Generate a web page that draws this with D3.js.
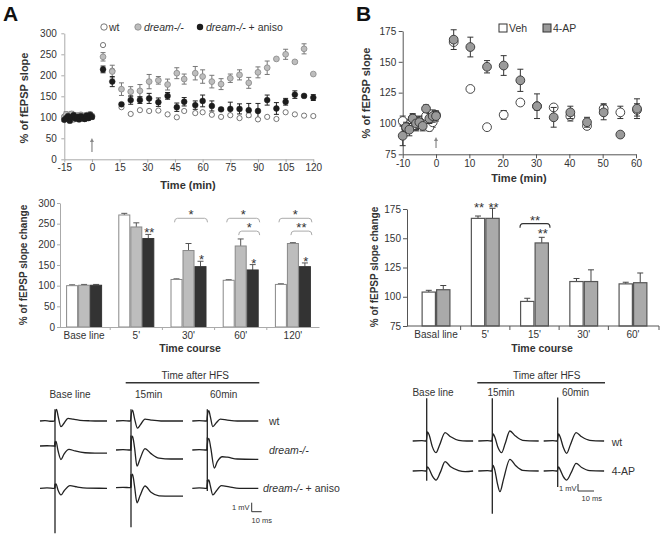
<!DOCTYPE html>
<html><head><meta charset="utf-8">
<script src="https://cdn.jsdelivr.net/npm/d3@7"></script>
<style>body{margin:0;background:#fff}svg{display:block}</style>
</head><body><svg id="c" width="662" height="536"></svg>
<script>
// ================= DATA =================
// Panel A, time course
const aXTicks = [-15,0,15,30,45,60,75,90,105,120];
const aYTicks = [0,50,100,150,200,250,300];
const aBaseTimes = [-15,-14,-13,-12,-11,-10,-9,-8,-7,-6,-5,-4,-3,-2,-1,0];
const aWtBase    = [102,98,104,100,106,99,103,101,97,105,100,104,98,106,102,104];
const aKoBase    = [100,107,96,103,108,95,101,104,99,106,97,102,105,100,107,103];
const aKoBaseErr = [5,6,4,5,6,5,4,6,5,4,5,6,4,5,5,4];
const aAnBase    = [94,98,103,92,100,105,97,101,95,103,99,96,104,98,106,101];
const aAnBaseErr = [4,5,4,5,4,5,4,5,4,5,4,5,4,5,4,5];
const aPostTimes = [6,11,16,21,26,31,36,41,46,50,56,60,65,70,75,80,85,90,95,100,105,110,115,120];
const aWtPost = [272,211,124,108,117,115,116,107,100,115,110,112,106,101,105,98,105,95,101,96,112,107,104,103];
const aKoPost = [244,209,167,161,163,185,188,178,205,191,205,197,185,179,193,201,182,207,218,239,250,232,263,203];
const aKoErr  = [10,15,15,12,15,17,9,13,13,12,16,16,15,13,10,12,13,13,16,2,12,3,12,0];
const aAnPost = [214,185,131,141,141,145,136,151,124,137,129,139,127,119,120,120,117,115,141,121,137,154,151,147];
const aAnErr  = [8,12,3,10,8,12,10,8,10,10,10,14,12,3,16,12,16,18,12,14,8,9,2,7];

// Panel A, bars
const aBarCats = ["Base line","5'","30'","60'","120'"];
const aBarSeries = ["wt","ko","an"];
const aBarWt = [100,271,115,113,103], aBarWtErr = [2,4,1.5,1.5,1.5];
const aBarKo = [101,242,185,196,202], aBarKoErr = [2,10,17,17,2];
const aBarAn = [101,214,146,138,146], aBarAnErr = [2,10,13,13,9];
const aBarYTicks = [0,50,100,150,200,250,300];
const aStars = [{cat:"5'",s:"an",t:"**"},{cat:"30'",s:"an",t:"*"},{cat:"60'",s:"an",t:"*"},{cat:"120'",s:"an",t:"*"}];
const aBrackets = [{cat:"30'",from:"wt",to:"an",lvl:1,t:"*"},{cat:"60'",from:"wt",to:"an",lvl:1,t:"*"},
  {cat:"60'",from:"ko",to:"an",lvl:2,t:"*"},{cat:"120'",from:"wt",to:"an",lvl:1,t:"*"},{cat:"120'",from:"ko",to:"an",lvl:2,t:"**"}];

// Panel B, time course
const bXTicks = [-10,0,10,20,30,40,50,60];
const bYTicks = [75,100,125,150,175];
const bBaseTimes = [-10,-9,-8,-7,-6,-5,-4,-3,-2,-1,0];
const bVehBase    = [102,96,99,104,98,102,100,106,97,101,107];
const bVehBaseErr = [4,3,4,3,4,3,4,3,3,4,3];
const bApBase     = [90,97,95,104,100,101,98,112,104,106,106];
const bApBaseErr  = [8,4,5,4,5,5,4,3,4,5,4];
const bPostTimes = [5.3,10.3,15.3,20.3,25.3,30.3,35.3,40.3,45.3,50.3,55.3,60.3];
const bVehPost = [166,128,97,107,117,114,113,106,98,112,109,111];
const bVehErr  = [2,2,1,3.5,2,3,2,4,2,4,5,5];
const bApPost  = [168,162,146,147,135,114,105,109,101,109,91,112];
const bApErr   = [8,8,5,8,9,10,8,5,4,6,1.5,8];

// Panel B, bars
const bBarCats = ["Basal line","5'","15'","30'","60'"];
const bBarSeries = ["veh","ap"];
const bBarVeh = [104,167,96,113,111], bBarVehErr = [1.5,2,2.7,2.6,1.4];
const bBarAp  = [106,167,146,113,112], bBarApErr  = [3.6,8.6,4.8,10,8.3];
const bBarYTicks = [75,100,125,150,175];
const bStars = [{cat:"5'",s:"veh",t:"**"},{cat:"5'",s:"ap",t:"**"},{cat:"15'",s:"ap",t:"**"}];
const bBrackets = [{cat:"15'",from:"veh",to:"ap",t:"**"}];

// Example traces: [time ms, mV relative to pre-stimulus baseline]; art = [top, bottom] of stimulus artifact
const trA_wt_base = {art:[1.3,-2.9], pts:[[-15,0],[-10,0.05],[-5,-0.03],[-0.5,0],[0,0.6],[1.5,1.3],[3,0.6],[6,-0.63],[9,-0.25],[13,0.3],[18,0.2],[25,0.08],[35,0.02],[45,0],[52,0]]};
const trA_wt_15   = {art:[1.3,-3.3], pts:[[-15,0],[-8,0.05],[-0.5,0],[0,0.5],[1.5,1.2],[3.5,0.3],[6.5,-0.8],[9.5,-0.4],[14,0.2],[20,0.1],[30,0],[52,0]]};
const trA_wt_60   = {art:[1.3,-3.3], pts:[[-15,0],[-8,0.04],[-0.5,0],[0,0.5],[1.5,1.15],[3,0.5],[5.5,-0.63],[9,-0.2],[13,0.2],[20,0.1],[30,0],[51,0]]};
const trA_ko_base = {art:[0.5,-4.7], pts:[[-15,0],[-8,0.03],[-0.5,0],[0,0.3],[1,0.5],[3,-0.5],[6,-1.5],[9,-0.9],[14,-0.37],[20,-0.55],[30,-0.75],[40,-0.8],[52,-0.8]]};
const trA_ko_15   = {art:[1.6,-4.2], pts:[[-15,0],[-8,0.04],[-0.5,0],[0,0.6],[1.5,1.55],[3.5,0.3],[6,-1.8],[9,-1.0],[14,0.15],[20,-0.4],[28,-0.9],[40,-1.0],[52,-1.0]]};
const trA_ko_60   = {art:[1.4,-4.2], pts:[[-15,0],[-8,0.04],[-0.5,0],[0,0.6],[1.5,1.3],[3.5,0.2],[7,-2.0],[10,-1.3],[15,-0.75],[20,-0.8],[30,-1.0],[51,-1.04]]};
const trA_an_base = {art:[0.5,-5.0], pts:[[-15,0],[-8,0.04],[-0.5,0],[0,0.3],[1,0.5],[3,-0.2],[6,-0.74],[9,-0.3],[15,0.3],[22,0.15],[32,0.02],[52,0]]};
const trA_an_15   = {art:[1.5,-4.4], pts:[[-15,0],[-8,0.04],[-0.5,0],[0,0.6],[1.5,1.5],[3.5,0.2],[6,-1.67],[9,-0.9],[14,0.19],[20,-0.5],[28,-0.9],[40,-0.93],[52,-0.93]]};
const trA_an_60   = {art:[0.93,-0.3], pts:[[-15,0],[-8,0.04],[-0.5,0],[0,0.4],[1.5,0.93],[3,0.3],[5.5,-0.74],[9,-0.3],[14,0.3],[22,0.15],[32,0],[51,0]]};
const trB_wt_base = {art:[6.1,-4.3], pts:[[-8.75,0],[-3,0.05],[-0.3,0],[0.5,1.3],[1.5,0.9],[3.5,-0.8],[5.8,-1.67],[8,-0.6],[11.5,1.2],[15,0.6],[20,0.1],[25,0],[29,0]]};
const trB_wt_15   = {art:[6.1,-4.3], pts:[[-8.75,0],[-3,0.05],[-0.3,0],[0.5,1.0],[1.5,0.6],[3.5,-0.9],[5.8,-1.67],[8,-0.4],[11,1.43],[14.5,0.7],[19,0.1],[29,0]]};
const trB_wt_60   = {art:[6.2,-4.3], pts:[[-8.75,0],[-3,0.05],[-0.3,0],[0.5,1.0],[1.5,0.6],[3.5,-0.9],[5.6,-1.76],[8,-0.5],[11.5,1.2],[15,0.6],[20,0.1],[29,0]]};
const trB_ap_base = {art:[0,-1.4], pts:[[-8.75,0],[-3,0.05],[-0.3,0],[0.5,0.6],[1.5,0.3],[3.5,-0.7],[5.8,-1.29],[8.5,-0.2],[11.5,1.33],[15,0.6],[20,0.05],[24,-0.1],[29,0]]};
const trB_ap_15   = {art:[0,-6.1], pts:[[-8.75,0],[-3,0.05],[-0.3,0],[0.5,0.8],[1.5,0.2],[3.2,-1.8],[4.8,-2.95],[7,-1.2],[11,1.67],[14.5,0.8],[19,0.1],[29,0]]};
const trB_ap_60   = {art:[0,-2.3], pts:[[-8.75,0],[-3,0.05],[-0.3,0],[0.5,0.6],[1.5,0.2],[3.5,-0.8],[5.6,-1.29],[8.5,-0.2],[11.5,1.1],[15,0.5],[20,0.05],[29,0]]};

// ================= DRAWING =================
const FONT = "'Liberation Sans', Arial, Helvetica, sans-serif";
const svg = d3.select("#c").attr("font-family", FONT);
svg.append("rect").attr("width",662).attr("height",536).attr("fill","#fff");

function styleAxis(g, color, fs) {
  g.attr("font-family", FONT).attr("font-size", fs);
  g.select(".domain").attr("stroke", color);
  g.selectAll(".tick line").attr("stroke", color);
  g.selectAll(".tick text").attr("fill", "#333");
}
function txt(x, y, s, o = {}) {
  const t = svg.append("text").attr("x", x).attr("y", y).text(s)
    .attr("font-size", o.fs || 10).attr("fill", o.fill || "#333")
    .attr("text-anchor", o.anchor || "start");
  if (o.bold) t.attr("font-weight", "bold");
  if (o.italic) t.attr("font-style", "italic");
  if (o.rot) t.attr("transform", `rotate(-90,${x},${y})`);
  return t;
}
function errBars(g, data, x, y, color, cap) {
  g.selectAll(null).data(data.filter(d => d.e > 0)).join("path")
    .attr("d", d => { const X = x(d.t), y1 = y(d.v + d.e), y2 = y(d.v - d.e);
      return `M${X},${y1}V${y2}M${X-cap/2},${y1}H${X+cap/2}M${X-cap/2},${y2}H${X+cap/2}`; })
    .attr("stroke", color).attr("fill", "none").attr("stroke-width", 1);
}
function series(times, vals, errs) { return times.map((t,i) => ({t, v: vals[i], e: errs ? errs[i] : 0})); }
function arrow(x, y1, y2, color) {
  svg.append("line").attr("x1",x).attr("x2",x).attr("y1",y1).attr("y2",y2+3).attr("stroke",color).attr("stroke-width",1.2);
  svg.append("path").attr("d",`M${x-2},${y2+4}L${x},${y2}L${x+2},${y2+4}Z`).attr("fill",color);
}

// Panel letters
txt(3, 21, "A", {fs: 21, bold: true, fill: "#111"});
txt(356, 21, "B", {fs: 21, bold: true, fill: "#111"});

// ---------- Panel A time course ----------
const ax = d3.scaleLinear().domain([-15,120]).range([64.3,313.3]);
const ay = d3.scaleLinear().domain([0,300]).range([159.3,33.3]);
styleAxis(svg.append("g").attr("transform",`translate(0,${ay(0)})`)
  .call(d3.axisBottom(ax).tickValues(aXTicks).tickFormat(d=>String(d)).tickSize(3).tickSizeOuter(0).tickPadding(2)), "#aaa", 10);
styleAxis(svg.append("g").attr("transform",`translate(${ax(-15)},0)`)
  .call(d3.axisLeft(ay).tickValues(aYTicks).tickSize(3).tickSizeOuter(0).tickPadding(4.5)), "#aaa", 10);
const aWt = series(aBaseTimes, aWtBase).concat(series(aPostTimes, aWtPost));
const aKo = series(aBaseTimes, aKoBase, aKoBaseErr).concat(series(aPostTimes, aKoPost, aKoErr));
const aAn = series(aBaseTimes, aAnBase, aAnBaseErr).concat(series(aPostTimes, aAnPost, aAnErr));
const gA = svg.append("g");
errBars(gA, aKo, ax, ay, "#777", 5);
errBars(gA, aAn, ax, ay, "#222", 5);
gA.selectAll(null).data(aWt).join("circle").attr("cx",d=>ax(d.t)).attr("cy",d=>ay(d.v)).attr("r",2.6)
  .attr("fill","#fff").attr("stroke","#555").attr("stroke-width",0.8);
gA.selectAll(null).data(aKo).join("circle").attr("cx",d=>ax(d.t)).attr("cy",d=>ay(d.v)).attr("r",2.9)
  .attr("fill","#bdbdbd").attr("stroke","#888").attr("stroke-width",0.8);
gA.selectAll(null).data(aAn).join("circle").attr("cx",d=>ax(d.t)).attr("cy",d=>ay(d.v)).attr("r",2.9)
  .attr("fill","#1c1c1c").attr("stroke","#1c1c1c").attr("stroke-width",0.5);
arrow(ax(0), 152, 138, "#888");
// legend A
svg.append("circle").attr("cx",104).attr("cy",27).attr("r",3.2).attr("fill","#fff").attr("stroke","#555").attr("stroke-width",0.8);
txt(109, 31, "wt", {fs: 10.5});
svg.append("circle").attr("cx",138).attr("cy",27).attr("r",3.2).attr("fill","#bdbdbd").attr("stroke","#888").attr("stroke-width",0.8);
txt(144, 31, "dream-/-", {fs: 10.5, italic: true});
svg.append("circle").attr("cx",200).attr("cy",27).attr("r",3.2).attr("fill","#1c1c1c");
const lt = txt(206, 31, "", {fs: 10.5});
lt.append("tspan").attr("font-style","italic").text("dream-/-");
lt.append("tspan").text(" + aniso");
txt(28, 98, "% of fEPSP slope", {fs: 11, bold: true, anchor: "middle", rot: true});
txt(188, 189, "Time (min)", {fs: 11, bold: true, anchor: "middle"});

// ---------- Panel A bars ----------
const abx0 = d3.scaleBand().domain(aBarCats).range([58,319]);
const abx1 = d3.scaleBand().domain(aBarSeries).range([0,36]);
const aby = d3.scaleLinear().domain([0,300]).range([327,203]);
const aGroupX = c => abx0(c) + (abx0.bandwidth() - 36) / 2;
const aBarData = [];
aBarCats.forEach((c,i) => {
  aBarData.push({c, s:"wt", v:aBarWt[i], e:aBarWtErr[i]});
  aBarData.push({c, s:"ko", v:aBarKo[i], e:aBarKoErr[i]});
  aBarData.push({c, s:"an", v:aBarAn[i], e:aBarAnErr[i]});
});
const aFill = {wt:"#fff", ko:"#bdbdbd", an:"#333"}, aStroke = {wt:"#888", ko:"#888", an:"#333"};
const gAB = svg.append("g");
gAB.selectAll(null).data(aBarData).join("path")
  .attr("d", d => { const X = aGroupX(d.c) + abx1(d.s) + abx1.bandwidth()/2;
    return `M${X},${aby(d.v)}V${aby(d.v+d.e)}M${X-3},${aby(d.v+d.e)}H${X+3}`; })
  .attr("stroke","#555").attr("fill","none");
gAB.selectAll(null).data(aBarData).join("rect")
  .attr("x", d => aGroupX(d.c) + abx1(d.s) + 0.5).attr("width", abx1.bandwidth() - 1)
  .attr("y", d => aby(d.v)).attr("height", d => aby(0) - aby(d.v))
  .attr("fill", d => aFill[d.s]).attr("stroke", d => aStroke[d.s]).attr("stroke-width", 1);
const axA = svg.append("g").attr("transform",`translate(0,${aby(0)})`)
  .call(d3.axisBottom(abx0).tickSize(0).tickPadding(5));
styleAxis(axA, "#aaa", 10);
styleAxis(svg.append("g").attr("transform",`translate(60,0)`)
  .call(d3.axisLeft(aby).tickValues(aBarYTicks).tickSize(3).tickSizeOuter(0).tickPadding(2)), "#aaa", 10);
aBarCats.slice(1).forEach(c => svg.append("line").attr("x1",abx0(c)).attr("x2",abx0(c)).attr("y1",aby(0)).attr("y2",aby(0)+3).attr("stroke","#aaa"));
// stars & brackets
const aTop = (c,s) => { const d = aBarData.find(q => q.c===c && q.s===s); return d.v + d.e; };
aStars.forEach(st => {
  const X = aGroupX(st.cat) + abx1(st.s) + abx1.bandwidth()/2 + 1;
  txt(X, aby(aTop(st.cat, st.s)) + 3, st.t, {fs: 13, anchor: "middle"});
});
aBrackets.forEach(b => {
  const x1 = aGroupX(b.cat) + abx1(b.from) + abx1.bandwidth()/2 - 2;
  const x2 = aGroupX(b.cat) + abx1(b.to) + abx1.bandwidth() + 1;
  const Y = b.lvl === 1 ? aby(263) : aby(232);
  svg.append("path").attr("d",`M${x1},${Y+4}Q${x1},${Y} ${x1+3},${Y}H${x2-3}Q${x2},${Y} ${x2},${Y+4}`)
    .attr("fill","none").attr("stroke","#aaa").attr("stroke-width",1);
  txt((x1+x2)/2, Y + 1, b.t, {fs: 13, anchor: "middle"});
});
txt(27, 265, "% of fEPSP slope change", {fs: 10, bold: true, anchor: "middle", rot: true});
txt(190, 352, "Time course", {fs: 10.5, bold: true, anchor: "middle"});

// ---------- Panel B time course ----------
const bx = d3.scaleLinear().domain([-10,60]).range([402.7,636]);
const by = d3.scaleLinear().domain([75,175]).range([154.3,31]);
styleAxis(svg.append("g").attr("transform",`translate(0,${by(75)})`)
  .call(d3.axisBottom(bx).tickValues(bXTicks).tickFormat(d=>String(d)).tickSize(4).tickSizeOuter(0).tickPadding(2)), "#555", 10);
styleAxis(svg.append("g").attr("transform",`translate(${bx(-10)},0)`)
  .call(d3.axisLeft(by).tickValues(bYTicks).tickSize(4).tickSizeOuter(0).tickPadding(2.5)), "#555", 10);
const bVeh = series(bBaseTimes, bVehBase, bVehBaseErr).concat(series(bPostTimes, bVehPost, bVehErr));
const bAp  = series(bBaseTimes, bApBase, bApBaseErr).concat(series(bPostTimes, bApPost, bApErr));
const gB = svg.append("g");
errBars(gB, bVeh, bx, by, "#333", 6);
gB.selectAll(null).data(bVeh).join("circle").attr("cx",d=>bx(d.t)).attr("cy",d=>by(d.v)).attr("r",4.4)
  .attr("fill","#fff").attr("stroke","#333").attr("stroke-width",0.9);
errBars(gB, bAp, bx, by, "#333", 6);
gB.selectAll(null).data(bAp).join("circle").attr("cx",d=>bx(d.t)).attr("cy",d=>by(d.v)).attr("r",4.4)
  .attr("fill","#9a9a9a").attr("stroke","#333").attr("stroke-width",0.9);
arrow(bx(0), 148, 137, "#888");
svg.append("rect").attr("x",499).attr("y",24).attr("width",8).attr("height",8).attr("fill","#fff").attr("stroke","#333");
txt(509, 32, "Veh", {fs: 10.5});
svg.append("rect").attr("x",543).attr("y",24).attr("width",8).attr("height",8).attr("fill","#9a9a9a").attr("stroke","#333");
txt(553, 32, "4-AP", {fs: 10.5});
txt(370, 93, "% of fEPSP slope", {fs: 11, bold: true, anchor: "middle", rot: true});
txt(519, 182, "Time (min)", {fs: 11, bold: true, anchor: "middle"});

// ---------- Panel B bars ----------
const bbx0 = d3.scaleBand().domain(bBarCats).range([411.4,657.6]);
const bbx1 = d3.scaleBand().domain(bBarSeries).range([0,29]);
const bby = d3.scaleLinear().domain([75,175]).range([326,209]);
const bGroupX = c => bbx0(c) + (bbx0.bandwidth() - 29) / 2;
const bBarData = [];
bBarCats.forEach((c,i) => {
  bBarData.push({c, s:"veh", v:bBarVeh[i], e:bBarVehErr[i]});
  bBarData.push({c, s:"ap", v:bBarAp[i], e:bBarApErr[i]});
});
const gBB = svg.append("g");
gBB.selectAll(null).data(bBarData).join("path")
  .attr("d", d => { const X = bGroupX(d.c) + bbx1(d.s) + bbx1.bandwidth()/2;
    return `M${X},${bby(d.v)}V${bby(d.v+d.e)}M${X-3},${bby(d.v+d.e)}H${X+3}`; })
  .attr("stroke","#444").attr("fill","none");
gBB.selectAll(null).data(bBarData).join("rect")
  .attr("x", d => bGroupX(d.c) + bbx1(d.s) + 0.6).attr("width", bbx1.bandwidth() - 1.2)
  .attr("y", d => bby(d.v)).attr("height", d => bby(75) - bby(d.v))
  .attr("fill", d => d.s === "veh" ? "#fff" : "#aaa").attr("stroke", "#555").attr("stroke-width", 1.2);
const axB = svg.append("g").attr("transform",`translate(0,${bby(75)})`)
  .call(d3.axisBottom(bbx0).tickSize(0).tickPadding(5));
styleAxis(axB, "#555", 10);
axB.select(".domain").attr("d", `M407,0H659`);
bBarCats.slice(1).forEach(c => svg.append("line").attr("x1",bbx0(c)).attr("x2",bbx0(c)).attr("y1",bby(75)).attr("y2",bby(75)+4).attr("stroke","#555"));
svg.append("line").attr("x1",659).attr("x2",659).attr("y1",bby(75)).attr("y2",bby(75)+4).attr("stroke","#555");
styleAxis(svg.append("g").attr("transform",`translate(407,0)`)
  .call(d3.axisLeft(bby).tickValues(bBarYTicks).tickSize(4).tickSizeOuter(0).tickPadding(2)), "#555", 10);
const bTop = (c,s) => { const d = bBarData.find(q => q.c===c && q.s===s); return d.v + d.e; };
bStars.forEach(st => {
  const X = bGroupX(st.cat) + bbx1(st.s) + bbx1.bandwidth()/2 + 1;
  const top = st.cat === "5'" ? Math.max(bTop(st.cat,"veh"), bTop(st.cat,"ap")) : bTop(st.cat, st.s);
  txt(X, bby(top) + (st.cat === "5'" ? 4 : 1), st.t, {fs: 13, anchor: "middle"});
});
bBrackets.forEach(b => {
  const x1 = bGroupX(b.cat) + bbx1(b.from);
  const x2 = bGroupX(b.cat) + bbx1(b.to) + bbx1.bandwidth() + 1;
  const Y = bby(162.5);
  svg.append("path").attr("d",`M${x1},${Y+4}Q${x1},${Y} ${x1+3},${Y}H${x2-3}Q${x2},${Y} ${x2},${Y+4}`)
    .attr("fill","none").attr("stroke","#333").attr("stroke-width",1.2);
  txt((x1+x2)/2, Y + 1, b.t, {fs: 13, anchor: "middle"});
});
txt(378, 267, "% of fEPSP slope change", {fs: 10, bold: true, anchor: "middle", rot: true});
txt(542, 352, "Time course", {fs: 10.5, bold: true, anchor: "middle"});

// ---------- Traces ----------
function drawTrace(tr, x0, y0, sx, sy) {
  const line = d3.line().x(d => x0 + sx(d[0])).y(d => y0 + sy(d[1])).curve(d3.curveMonotoneX);
  svg.append("path").attr("d", line(tr.pts)).attr("fill","none").attr("stroke","#222").attr("stroke-width",1.3);
  svg.append("line").attr("x1",x0+sx(0)).attr("x2",x0+sx(0)).attr("y1",y0+sy(tr.art[0])).attr("y2",y0+sy(tr.art[1]))
    .attr("stroke","#222").attr("stroke-width",1.3);
}
// Panel A traces: 10 ms = 10 px, 1 mV = 9 px
const tAx = d3.scaleLinear().domain([0,10]).range([0,10]);
const tAy = d3.scaleLinear().domain([0,1]).range([0,-9]);
const colXA = [55,131,207.3];
const rowYA = [[421,421,421],[446,450,450],[488.3,487.7,488.3]];
[[trA_wt_base,trA_wt_15,trA_wt_60],[trA_ko_base,trA_ko_15,trA_ko_60],[trA_an_base,trA_an_15,trA_an_60]]
  .forEach((row,r) => row.forEach((tr,c) => drawTrace(tr, colXA[c], rowYA[r][c], tAx, tAy)));
txt(195.3, 379, "Time after HFS", {fs: 10, anchor: "middle"});
svg.append("line").attr("x1",125.7).attr("x2",259.3).attr("y1",382.7).attr("y2",382.7).attr("stroke","#333").attr("stroke-width",1.5);
txt(70, 398, "Base line", {fs: 10, anchor: "middle"});
txt(148.7, 398, "15min", {fs: 10, anchor: "middle"});
txt(223.7, 398, "60min", {fs: 10, anchor: "middle"});
txt(269, 425, "wt", {fs: 10.5});
txt(269, 454, "dream-/-", {fs: 10.5, italic: true});
const lt2 = txt(263, 492, "", {fs: 10.5});
lt2.append("tspan").attr("font-style","italic").text("dream-/-");
lt2.append("tspan").text(" + aniso");
// scale bar A
svg.append("path").attr("d",`M251.7,${511.7+tAy(1)}V511.7H${251.7+tAx(10)}`).attr("fill","none").attr("stroke","#333").attr("stroke-width",1);
txt(249.5, 509.5, "1 mV", {fs: 7.5, anchor: "end"});
txt(251.5, 522.5, "10 ms", {fs: 7.5});

// Panel B traces: 10 ms = 16 px, 1 mV = 7 px
const tBx = d3.scaleLinear().domain([0,10]).range([0,16]);
const tBy = d3.scaleLinear().domain([0,1]).range([0,-7]);
const colXB = [426.7,492.3,557.7];
const rowYB = [441,471];
[[trB_wt_base,trB_wt_15,trB_wt_60],[trB_ap_base,trB_ap_15,trB_ap_60]]
  .forEach((row,r) => row.forEach((tr,c) => drawTrace(tr, colXB[c], rowYB[r], tBx, tBy)));
txt(546.7, 379, "Time after HFS", {fs: 10, anchor: "middle"});
svg.append("line").attr("x1",477.3).attr("x2",605).attr("y1",382.7).attr("y2",382.7).attr("stroke","#333").attr("stroke-width",1.5);
txt(433, 396, "Base line", {fs: 10, anchor: "middle"});
txt(501, 396, "15min", {fs: 10, anchor: "middle"});
txt(575.5, 396, "60min", {fs: 10, anchor: "middle"});
txt(611.7, 445.5, "wt", {fs: 10.5});
txt(611.7, 475, "4-AP", {fs: 10.5});
svg.append("path").attr("d",`M578,${491+tBy(1)}V491H${578+tBx(10)}`).attr("fill","none").attr("stroke","#333").attr("stroke-width",1);
txt(576.5, 490.5, "1 mV", {fs: 7.5, anchor: "end"});
txt(581.5, 500.5, "10 ms", {fs: 7.5});
</script></body></html>
